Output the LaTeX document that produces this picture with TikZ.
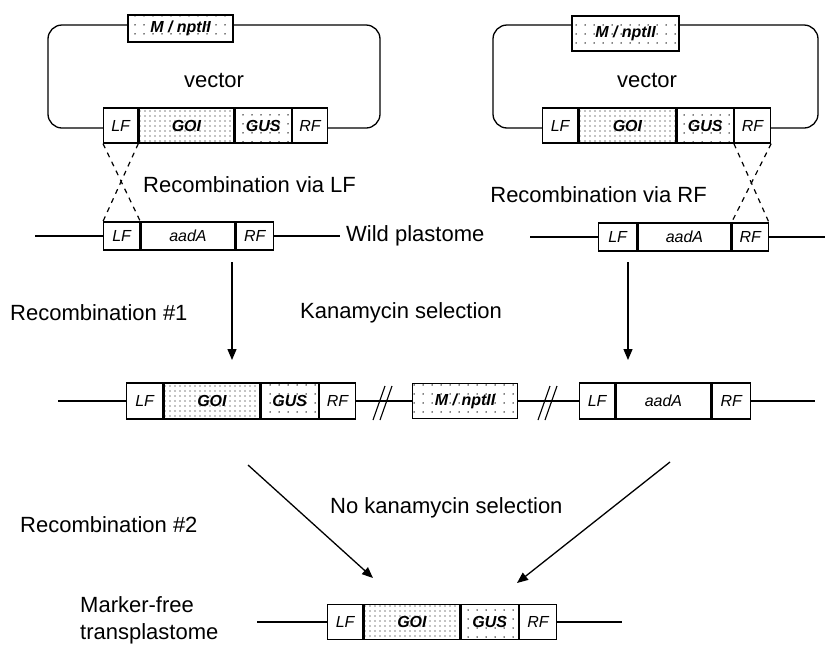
\documentclass[tikz,border=0pt]{standalone}
\usepackage{fontspec}
\setmainfont{Liberation Sans}
\usetikzlibrary{patterns.meta,arrows.meta}
\tikzset{
  seg/.style={draw, line width=1.3pt, inner sep=0pt, fill=white,
    font=\fontsize{16}{16}\selectfont\itshape},
  dense/.style={fill=none, preaction={fill=white}, pattern={Dots[distance=5pt, radius=0.65pt]}},
  sparse/.style={fill=none, preaction={fill=white}, pattern={Dots[distance=9pt, radius=0.75pt]}},
  lbl/.style={inner sep=0pt, font=\fontsize{22}{26}\selectfont},
  dna/.style={line width=1.3pt},
  arr/.style={line width=1.3pt, -{Triangle[length=11pt, width=9pt]}},
  xover/.style={line width=1.2pt, dash pattern=on 5pt off 5pt},
  brk/.style={line width=1.1pt},
}
\begin{document}
\begin{tikzpicture}[x=1pt, y=-1pt]
\useasboundingbox (0,0) rectangle (825,646);

% ---------- left vector ----------
\draw[line width=1.3pt, rounded corners=14pt] (48,25) rectangle (380,128);
\node[seg, sparse, minimum width=105pt, minimum height=27pt] (vLm) at (180.5,28.5) {\bfseries M / nptII};
\node[lbl] (vLtxt) at (214,80) {vector};
\begin{scope}[every node/.append style={minimum height=35pt, anchor=west}]
\node[seg, minimum width=34pt] (vLlf) at (103,125.5) {LF};
\node[seg, dense, minimum width=95pt] (vLgoi) at (vLlf.east) {\bfseries GOI};
\node[seg, sparse, minimum width=56pt] (vLgus) at (vLgoi.east) {\bfseries GUS};
\node[seg, minimum width=35pt] (vLrf) at (vLgus.east) {RF};
\end{scope}

% ---------- right vector ----------
\draw[line width=1.3pt, rounded corners=14pt] (493,25) rectangle (818,128);
\node[seg, sparse, minimum width=107pt, minimum height=35pt] (vRm) at (625.5,33.5) {\bfseries M / nptII};
\node[lbl] (vRtxt) at (647,80) {vector};
\begin{scope}[every node/.append style={minimum height=35pt, anchor=west}]
\node[seg, minimum width=35pt] (vRlf) at (542,125.5) {LF};
\node[seg, dense, minimum width=97pt] (vRgoi) at (vRlf.east) {\bfseries GOI};
\node[seg, sparse, minimum width=56pt] (vRgus) at (vRgoi.east) {\bfseries GUS};
\node[seg, minimum width=36pt] (vRrf) at (vRgus.east) {RF};
\end{scope}

% ---------- wild plastomes ----------
\begin{scope}[every node/.append style={minimum height=28pt, anchor=west}]
\node[seg, minimum width=36pt] (wLlf) at (103,236) {LF};
\node[seg, minimum width=94pt] (wLaad) at (wLlf.east) {aadA};
\node[seg, minimum width=37pt] (wLrf) at (wLaad.east) {RF};
\node[seg, minimum width=38pt] (wRlf) at (598,237) {LF};
\node[seg, minimum width=93pt] (wRaad) at (wRlf.east) {aadA};
\node[seg, minimum width=36pt] (wRrf) at (wRaad.east) {RF};
\end{scope}
\coordinate (wL0) at (35,236);
\coordinate (wL1) at (340,236);
\coordinate (wR0) at (530,237);
\coordinate (wR1) at (825,237);
\draw[dna] (wL0) -- (wLlf.west);
\draw[dna] (wLrf.east) -- (wL1);
\draw[dna] (wR0) -- (wRlf.west);
\draw[dna] (wRrf.east) -- (wR1);
\node[lbl, anchor=west] (wild) at (346,236) {Wild plastome};

% crossovers
\draw[xover] (vLlf.south west) -- (wLlf.north east);
\draw[xover] (vLlf.south east) -- (wLlf.north west);
\draw[xover] (vRrf.south west) -- (wRrf.north east);
\draw[xover] (vRrf.south east) -- (wRrf.north west);
\node[lbl, anchor=west] (recLF) at (143,185) {Recombination via LF};
\node[lbl, anchor=east] (recRF) at (707,195) {Recombination via RF};

% ---------- intermediate ----------
\begin{scope}[every node/.append style={minimum height=36pt, anchor=west}]
\node[seg, minimum width=36pt] (mLlf) at (126,401) {LF};
\node[seg, dense, minimum width=96pt] (mLgoi) at (mLlf.east) {\bfseries GOI};
\node[seg, sparse, minimum width=57pt] (mLgus) at (mLgoi.east) {\bfseries GUS};
\node[seg, minimum width=36pt] (mLrf) at (mLgus.east) {RF};
\node[seg, sparse, minimum width=105pt, minimum height=35pt] (mM) at (412,401) {\bfseries M / nptII};
\node[seg, minimum width=35pt] (mRlf) at (579,401) {LF};
\node[seg, minimum width=95pt] (mRaad) at (mRlf.east) {aadA};
\node[seg, minimum width=38pt] (mRrf) at (mRaad.east) {RF};
\end{scope}
\coordinate (m0) at (58,401);
\coordinate (m1) at (815,401);
\draw[dna] (m0) -- (mLlf.west);
\draw[dna] (mLrf.east) -- (mM.west);
\draw[dna] (mM.east) -- (mRlf.west);
\draw[dna] (mRrf.east) -- (m1);
% break marks
\draw[brk] (373,420) -- (385,386);
\draw[brk] (380,420) -- (392,386);
\draw[brk] (538,420) -- (550,386);
\draw[brk] (545,420) -- (557,386);

% arrows to intermediate
\coordinate (aL0) at (232,262);
\coordinate (aR0) at (628,262);
\draw[arr] (aL0) -- (232,360);
\draw[arr] (aR0) -- (628,360);
\node[lbl, anchor=west] (rec1) at (10,313) {Recombination \#1};
\node[lbl, anchor=west] (kan) at (300,313) {Kanamycin selection};

% ---------- marker-free ----------
\begin{scope}[every node/.append style={minimum height=35pt, anchor=west}]
\node[seg, minimum width=35pt] (fLf) at (327,622) {LF};
\node[seg, dense, minimum width=96pt] (fgoi) at (fLf.east) {\bfseries GOI};
\node[seg, sparse, minimum width=57pt] (fgus) at (fgoi.east) {\bfseries GUS};
\node[seg, minimum width=37pt] (frf) at (fgus.east) {RF};
\end{scope}
\coordinate (f0) at (257,622);
\coordinate (f1) at (622,622);
\draw[dna] (f0) -- (fLf.west);
\draw[dna] (frf.east) -- (f1);

\coordinate (dL0) at (248,465);
\coordinate (dL1) at (373,578);
\coordinate (dR0) at (670,462);
\coordinate (dR1) at (517,583);
\draw[arr] (dL0) -- (dL1);
\draw[arr] (dR0) -- (dR1);
\node[lbl, anchor=west] (nokan) at (330,508) {No kanamycin selection};
\node[lbl, anchor=west] (rec2) at (20,525) {Recombination \#2};
\node[lbl, anchor=north west, align=left, font=\fontsize{22}{27}\selectfont] (mf) at (80,596) {Marker-free\\transplastome};
\end{tikzpicture}
\end{document}
